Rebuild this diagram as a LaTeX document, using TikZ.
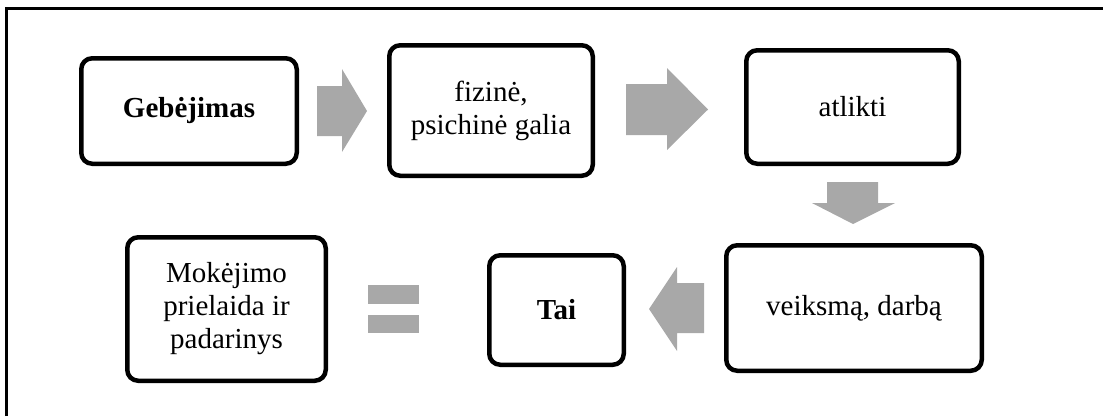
\documentclass[tikz,border=0pt]{standalone}
\usepackage{fontspec}
\setmainfont{Liberation Serif}
\begin{document}
\begin{tikzpicture}[x=1pt,y=-1pt,
  stepbox/.style={draw=black, line width=4.5pt, rounded corners=11pt, fill=white,
    align=center, inner sep=0pt, font=\fontsize{29}{33}\selectfont},
  blockarrow/.style={fill=arrowgray, draw=none}]
\definecolor{arrowgray}{RGB}{168,168,168}
\useasboundingbox (0,0) rectangle (1103,416);

% frame (left and top edges)
\draw[line width=2.5pt] (6.5,416) -- (6.5,8.5) -- (1103,8.5);

% boxes
\node[stepbox, minimum width=215.5pt, minimum height=105.5pt] (geb) at (189,111) {\textbf{Gebėjimas}};
\node[stepbox, minimum width=203.5pt, minimum height=130.5pt] (fiz) at (491,110.5) {fizinė,\\psichinė galia};
\node[stepbox, minimum width=212.5pt, minimum height=113.5pt] (atl) at (852.5,107) {atlikti};
\node[stepbox, minimum width=255.5pt, minimum height=125.5pt] (vei) at (854,308) {veiksmą, darbą};
\node[stepbox, minimum width=134.5pt, minimum height=109.5pt] (tai) at (556.5,310) {\textbf{Tai}};
\node[stepbox, minimum width=198.5pt, minimum height=143.5pt] (mok) at (226.5,309) {Mokėjimo\\prielaida ir\\padarinys};

% block arrows between the boxes
\fill[blockarrow] (317,86) -- (342,86) -- (342,69) -- (367,111) -- (342,152) -- (342,136) -- (317,136) -- cycle;
\fill[blockarrow] (626,84) -- (667,84) -- (667,68) -- (708,109.5) -- (667,150) -- (667,135) -- (626,135) -- cycle;
\fill[blockarrow] (827,182) -- (878,182) -- (878,203) -- (895,203) -- (853,224) -- (812,203) -- (827,203) -- cycle;
\fill[blockarrow] (704,283) -- (677,283) -- (677,267) -- (649,309) -- (677,351) -- (677,333) -- (704,333) -- cycle;

% equals sign
\fill[blockarrow] (368,285) rectangle (419,304);
\fill[blockarrow] (368,315) rectangle (419,333);
\end{tikzpicture}
\end{document}
